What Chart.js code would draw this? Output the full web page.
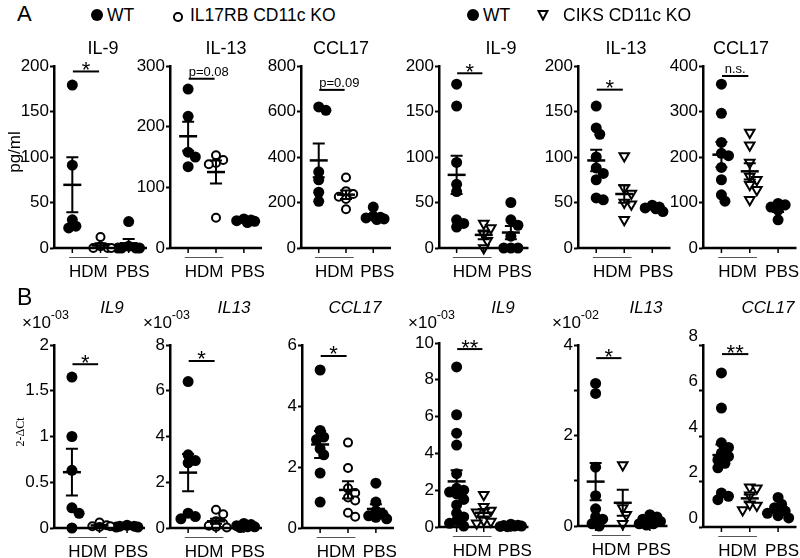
<!DOCTYPE html>
<html><head><meta charset="utf-8">
<script src="https://cdn.jsdelivr.net/npm/chart.js@4/dist/chart.umd.min.js"></script>
<style>
html,body{margin:0;padding:0;background:#fff}
body{width:800px;height:558px;position:relative;overflow:hidden;font-family:"Liberation Sans",Arial,sans-serif;color:#000}
.t{position:absolute;white-space:nowrap;line-height:1}
.box{position:absolute}
.mk{position:absolute}
</style></head><body>
<script>
// ---------------- DATA ----------------
const categories = ["HDM", "PBS"];
const groupNames = ["WT HDM", "KO HDM", "WT PBS"];
const titlesA = ["IL-9", "IL-13", "CCL17", "IL-9", "IL-13", "CCL17"];
const titlesB = ["IL9", "IL13", "CCL17", "IL9", "IL13", "CCL17"];
const legendA1 = ["WT", "IL17RB CD11c KO"];
const legendA2 = ["WT", "CIKS CD11c KO"];
const sigTextA = ["*", "p=0.08", "p=0.09", "*", "*", "n.s."];
const sigTextB = ["*", "*", "*", "**", "*", "**"];
const yMaxA = [200, 300, 800, 200, 200, 400];
const yStepA = [50, 100, 200, 50, 50, 100];
const yMaxB = [2, 8, 6, 10, 4, 8];
const yStepB = [0.5, 2, 2, 2, 1, 2];
const expB = ["-03", "-03", null, "-03", "-02", null];
const sigLevelA = [194, 279, 695, 192, 174, 378];
const sigLevelB = [1.79, 7.3, 5.64, 9.67, 3.71, 7.6];

// A: protein (pg/ml) — IL17RB CD11c KO experiment
const rb_IL9_WT = [179, 91, 31, 24, 22];
const rb_IL9_KO = [12, 2, 0, 0, 0];
const rb_IL9_PBS = [29, 2, 0, 0, 0, 0];
const rb_IL13_WT = [262, 217, 158, 150, 134];
const rb_IL13_KO = [153, 145, 140, 138, 50];
const rb_IL13_PBS = [48, 46, 45, 44, 42];
const rb_CCL17_WT = [620, 605, 335, 300, 245, 205];
const rb_CCL17_KO = [310, 250, 237, 225, 215, 170];
const rb_CCL17_PBS = [180, 140, 135, 132, 128, 125];
// A: protein — CIKS CD11c KO experiment
const ciks_IL9_WT = [180, 156, 94, 70, 62, 31, 27, 23];
const ciks_IL9_KO = [27, 22, 15, 8, 0];
const ciks_IL9_PBS = [50, 31, 25, 13, 0, 0, 0];
const ciks_IL13_WT = [156, 132, 125, 100, 88, 82, 75, 55, 53];
const ciks_IL13_KO = [101, 66, 60, 50, 48, 31];
const ciks_IL13_PBS = [47, 45, 44, 43, 40];
const ciks_CCL17_WT = [360, 296, 232, 208, 203, 177, 150, 117, 103];
const ciks_CCL17_KO = [254, 226, 188, 157, 150, 139, 128, 106];
const ciks_CCL17_PBS = [98, 95, 90, 83, 62];
// B: mRNA (2^-ΔCt) — IL17RB CD11c KO
const rbm_IL9_WT = [1.65, 1.0, 0.63, 0.22, 0.16, 0.0];
const rbm_IL9_KO = [0.06, 0.03, 0.02, 0.01, 0.02];
const rbm_IL9_PBS = [0.03, 0.02, 0.02, 0.01, 0.01];
const rbm_IL13_WT = [6.4, 3.2, 2.95, 2.85, 0.65, 0.5, 0.4];
const rbm_IL13_KO = [0.8, 0.6, 0.3, 0.2, 0.1, 0.05, 0.02];
const rbm_IL13_PBS = [0.2, 0.15, 0.1, 0.05, 0.05, 0.02];
const rbm_CCL17_WT = [5.18, 3.2, 2.98, 2.9, 2.6, 2.4, 1.8, 0.85];
const rbm_CCL17_KO = [2.8, 1.97, 1.3, 1.15, 1.0, 0.9, 0.5, 0.37];
const rbm_CCL17_PBS = [1.47, 0.85, 0.55, 0.45, 0.4, 0.35, 0.3];
// B: mRNA — CIKS CD11c KO
const ciksm_IL9_WT = [8.7, 6.1, 5.1, 4.45, 2.9, 2.1, 2.0, 1.9, 1.8, 1.5, 1.2, 0.75, 0.55, 0.35, 0.2, 0.05];
const ciksm_IL9_KO = [1.75, 1.1, 0.9, 0.8, 0.35, 0.3, 0.2];
const ciksm_IL9_PBS = [0.15, 0.1, 0.08, 0.05, 0.05, 0.03, 0.02];
const ciksm_IL13_WT = [3.15, 2.93, 1.3, 0.67, 0.38, 0.2, 0.15, 0.05, 0.0];
const ciksm_IL13_KO = [1.35, 0.4, 0.25, 0.05];
const ciksm_IL13_PBS = [0.25, 0.2, 0.15, 0.1, 0.1, 0.05, 0.05, 0.02];
const ciksm_CCL17_WT = [6.77, 5.23, 3.7, 3.5, 3.25, 3.1, 2.95, 2.8, 2.6, 1.5, 1.35, 1.2];
const ciksm_CCL17_KO = [1.75, 1.7, 1.4, 1.0, 0.95, 0.75];
const ciksm_CCL17_PBS = [1.3, 1.0, 0.85, 0.7, 0.6, 0.5, 0.4];

// ---------------- LAYOUT ----------------
const FONT = '"Liberation Sans", Arial, sans-serif';
const XMIN = 0.35, XMAX = 3.65;
const AW = 50, PT = 24, PB = 44, PR = 6;
const geomA = [[54,147],[170,262],[301,391],[439,530],[578,672],[703,798]];
const geomB = [[54,145,345,528],[170,262,345,528],[302,394,345,528],[439,530,343,527],[578,669,345,526],[703,798,345,527]];

function txt(str, x, base, size, o = {}) {
  const d = document.createElement('div');
  d.className = 't';
  d.textContent = str;
  d.style.fontSize = size + 'px';
  if (o.italic) d.style.fontStyle = 'italic';
  if (o.family) d.style.fontFamily = o.family;
  if (o.rotate) {
    d.style.left = x + 'px'; d.style.top = base + 'px';
    d.style.transform = 'translate(-50%,-50%) rotate(-90deg)';
  } else {
    d.style.top = (base - 0.8465 * size) + 'px';
    d.style.left = x + 'px';
    if (o.center) d.style.transform = 'translateX(-50%)';
  }
  document.body.appendChild(d);
  return d;
}

// simple beeswarm: horizontal spread computed from the values (layout only)
function swarm(vals, pxPerUnit, pxPerX) {
  const order = vals.map((v, i) => i).sort((a, b) => vals[b] - vals[a]);
  const placed = [], off = new Array(vals.length).fill(0);
  const cand = [0, 1, -1, 2, -2, 3, -3];
  const minD = 7;
  for (const i of order) {
    const y = vals[i] * pxPerUnit;
    let best = null, bestD = -1;
    for (const c of cand) {
      const x = c * 3.6;
      const d = placed.length ? Math.min(...placed.map(p => Math.hypot(p.x - x, p.y - y))) : 1e9;
      if (d >= minD) { best = x; break; }
      if (d > bestD) { bestD = d; best = x; }
    }
    off[i] = best; placed.push({ x: best, y });
  }
  return off.map(px => px / pxPerX);
}

const decorPlugin = {
  id: 'panelDecor',
  afterDatasetsDraw(chart) {
    const o = chart.options.plugins.panelDecor;
    const ctx = chart.ctx, xs = chart.scales.x, ys = chart.scales.y, ca = chart.chartArea;
    ctx.save();
    ctx.strokeStyle = '#000'; ctx.fillStyle = '#000'; ctx.lineCap = 'butt';
    chart.data.datasets.forEach((ds, g) => {
      const v = ds.data.map(p => p.y), n = v.length;
      const m = v.reduce((a, b) => a + b, 0) / n;
      const sd = Math.sqrt(v.reduce((a, b) => a + (b - m) ** 2, 0) / (n - 1));
      const se = sd / Math.sqrt(n);
      const cx = xs.getPixelForValue(g + 1);
      const ym = ys.getPixelForValue(m), y1 = ys.getPixelForValue(m + se), y0 = ys.getPixelForValue(m - se);
      ctx.lineWidth = 2;
      ctx.beginPath();
      ctx.moveTo(cx, y1); ctx.lineTo(cx, y0);
      ctx.moveTo(cx - 6, y1); ctx.lineTo(cx + 6, y1);
      ctx.moveTo(cx - 6, y0); ctx.lineTo(cx + 6, y0);
      ctx.stroke();
      ctx.lineWidth = 2.5;
      ctx.beginPath(); ctx.moveTo(cx - 9, ym); ctx.lineTo(cx + 9, ym); ctx.stroke();
    });
    const yb = ys.getPixelForValue(ys.min);
    ctx.lineWidth = 2.5;
    ctx.beginPath(); ctx.moveTo(ca.left - 1.25, yb); ctx.lineTo(ca.right, yb); ctx.stroke();
    ctx.lineWidth = 1.5;
    ctx.beginPath();
    for (let g = 1; g <= 3; g++) { const x = xs.getPixelForValue(g); ctx.moveTo(x, yb); ctx.lineTo(x, yb + 5); }
    ctx.stroke();
    ctx.font = '17px ' + FONT; ctx.textAlign = 'center'; ctx.textBaseline = 'alphabetic';
    const hx = (xs.getPixelForValue(1) + xs.getPixelForValue(2)) / 2 + 2;
    const hw = ctx.measureText(o.cats[0]).width;
    ctx.lineWidth = 1; ctx.strokeStyle = '#555';
    ctx.beginPath(); ctx.moveTo(hx - hw / 2, yb + 9.5); ctx.lineTo(hx + hw / 2, yb + 9.5); ctx.stroke();
    ctx.fillText(o.cats[0], hx, yb + 29);
    ctx.fillText(o.cats[1], xs.getPixelForValue(3) + 4, yb + 29);
    // significance bar
    const lx0 = xs.getPixelForValue(1.02), lx1 = xs.getPixelForValue(1.95);
    const ly = ys.getPixelForValue(o.sigY);
    ctx.strokeStyle = '#000'; ctx.lineWidth = 2;
    ctx.beginPath(); ctx.moveTo(lx0, ly); ctx.lineTo(lx1, ly); ctx.stroke();
    const s = o.sig;
    if (s.startsWith('*')) {
      ctx.font = '22px ' + FONT; ctx.textAlign = 'center';
      ctx.fillText(s, (lx0 + lx1) / 2, ly - 4 + 0.43 * 22);
    } else if (s.startsWith('p')) {
      ctx.font = '13px ' + FONT; ctx.textAlign = 'left';
      ctx.fillText(s, lx0, ly - 3);
    } else {
      ctx.font = '13px ' + FONT; ctx.textAlign = 'center';
      ctx.fillText(s, (lx0 + lx1) / 2, ly - 3);
    }
    ctx.restore();
  }
};

function makePanel(p) {
  const W = p.right - p.left + AW + PR, H = p.bottom - p.top + PT + PB;
  const div = document.createElement('div');
  div.className = 'box';
  div.style.left = (p.left - AW) + 'px'; div.style.top = (p.top - PT) + 'px';
  div.style.width = W + 'px'; div.style.height = H + 'px';
  const cv = document.createElement('canvas');
  cv.width = W; cv.height = H; cv.style.width = W + 'px'; cv.style.height = H + 'px';
  div.appendChild(cv); document.body.appendChild(div);
  const pxPerUnit = (p.bottom - p.top) / (p.ymax - 0);
  const pxPerX = (p.right - p.left) / (XMAX - XMIN);
  const styles = [
    { r: 5.5, bg: '#000', bw: 0, ps: 'circle', rot: 0 },
    p.koTri ? { r: 5.5, bg: '#fff', bw: 2, ps: 'triangle', rot: 180 } : { r: 4, bg: '#fff', bw: 2, ps: 'circle', rot: 0 },
    { r: 5.5, bg: '#000', bw: 0, ps: 'circle', rot: 0 }
  ];
  const datasets = p.series.map((vals, g) => {
    const offs = swarm(vals, pxPerUnit, pxPerX);
    const st = styles[g];
    return {
      label: groupNames[g],
      data: vals.map((v, i) => ({ x: g + 1 + offs[i], y: v })),
      pointRadius: st.r, pointBackgroundColor: st.bg, pointBorderColor: '#000',
      pointBorderWidth: st.bw, pointStyle: st.ps, pointRotation: st.rot, clip: false
    };
  });
  new Chart(cv, {
    type: 'scatter',
    data: { datasets },
    options: {
      responsive: false, animation: false, events: [],
      layout: { padding: { top: PT, bottom: PB, left: 0, right: PR } },
      plugins: {
        legend: { display: false }, tooltip: { enabled: false },
        panelDecor: { cats: categories, sig: p.sig, sigY: p.sigY }
      },
      scales: {
        x: { type: 'linear', display: false, min: XMIN, max: XMAX },
        y: {
          min: 0, max: p.ymax,
          afterFit(s) { s.width = AW; },
          ticks: {
            stepSize: p.step, padding: 1, color: '#000', labelOffset: p.labelOffset || 0,
            font: { family: FONT, size: 17 },
            callback: (v) => (p.hideOdd && Math.round(v) % 2 === 1) ? '' : String(+Number(v).toFixed(4))
          },
          grid: { drawOnChartArea: false, drawTicks: true, tickLength: 4, tickWidth: 2, color: '#000' },
          border: { display: true, color: '#000', width: 2.5 }
        }
      }
    },
    plugins: [decorPlugin]
  });
}

const seriesA = [
  [rb_IL9_WT, rb_IL9_KO, rb_IL9_PBS], [rb_IL13_WT, rb_IL13_KO, rb_IL13_PBS], [rb_CCL17_WT, rb_CCL17_KO, rb_CCL17_PBS],
  [ciks_IL9_WT, ciks_IL9_KO, ciks_IL9_PBS], [ciks_IL13_WT, ciks_IL13_KO, ciks_IL13_PBS], [ciks_CCL17_WT, ciks_CCL17_KO, ciks_CCL17_PBS]
];
const seriesB = [
  [rbm_IL9_WT, rbm_IL9_KO, rbm_IL9_PBS], [rbm_IL13_WT, rbm_IL13_KO, rbm_IL13_PBS], [rbm_CCL17_WT, rbm_CCL17_KO, rbm_CCL17_PBS],
  [ciksm_IL9_WT, ciksm_IL9_KO, ciksm_IL9_PBS], [ciksm_IL13_WT, ciksm_IL13_KO, ciksm_IL13_PBS], [ciksm_CCL17_WT, ciksm_CCL17_KO, ciksm_CCL17_PBS]
];

for (let i = 0; i < 6; i++) {
  makePanel({ left: geomA[i][0], right: geomA[i][1], top: 66, bottom: 248, ymax: yMaxA[i], step: yStepA[i],
    series: seriesA[i], koTri: i >= 3, sig: sigTextA[i], sigY: sigLevelA[i] });
  makePanel({ left: geomB[i][0], right: geomB[i][1], top: geomB[i][2], bottom: geomB[i][3], ymax: yMaxB[i], step: yStepB[i],
    series: seriesB[i], koTri: i >= 3, sig: sigTextB[i], sigY: sigLevelB[i], hideOdd: i === 4, labelOffset: i === 5 ? -9 : 0 });
}

// ---------------- TEXT ----------------
const titleXA = [103, 226, 341, 501, 626, 741];
const titleXB = [112, 234, 355, 503, 646, 768];
titlesA.forEach((t, i) => txt(t, titleXA[i], 54, 18, { center: true }));
titlesB.forEach((t, i) => txt(t, titleXB[i], 313, 17, { center: true, italic: true }));
txt('A', 17, 22, 22);
txt('B', 17, 305, 23);
txt('pg/ml', 14, 152, 17, { rotate: true });
txt('2-ΔCt', 20, 432, 12, { rotate: true, family: '"Liberation Serif", "DejaVu Serif", serif' });
const expX = [22, 143, null, 408, 552, null];
expB.forEach((e, i) => {
  if (!e) return;
  const d = txt('×10', expX[i], 328, 17);
  const sup = document.createElement('span');
  sup.textContent = e; sup.style.fontSize = '12.5px'; sup.style.position = 'relative'; sup.style.top = '-9px';
  d.appendChild(sup);
});
// legends
function dot(cx, cy, d, filled) {
  const m = document.createElement('div'); m.className = 'mk';
  m.style.left = (cx - d / 2) + 'px'; m.style.top = (cy - d / 2) + 'px';
  m.style.width = d + 'px'; m.style.height = d + 'px'; m.style.borderRadius = '50%';
  m.style.boxSizing = 'border-box';
  if (filled) m.style.background = '#000'; else m.style.border = '2px solid #000';
  document.body.appendChild(m);
}
dot(97, 15, 12, true);
txt(legendA1[0], 107, 22, 17.5);
dot(178, 17, 9.5, false);
txt(legendA1[1], 190, 22, 17.5);
dot(473, 15, 12, true);
txt(legendA2[0], 483, 22, 17.5);
const tri = document.createElementNS('http://www.w3.org/2000/svg', 'svg');
tri.setAttribute('width', '12'); tri.setAttribute('height', '12');
tri.style.position = 'absolute'; tri.style.left = '537px'; tri.style.top = '9px';
tri.innerHTML = '<polygon points="1.5,2 10.5,2 6,10.5" fill="#fff" stroke="#000" stroke-width="2"/>';
document.body.appendChild(tri);
txt(legendA2[1], 563, 22, 17.5);
</script>
</body></html>
